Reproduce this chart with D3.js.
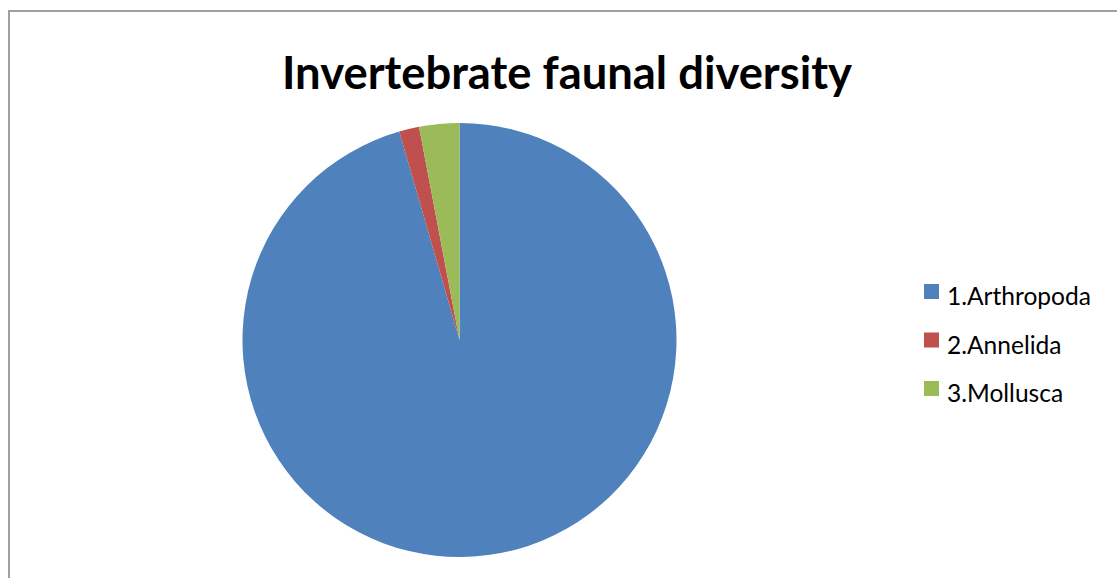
<!DOCTYPE html>
<html lang="en">
<head>
<meta charset="utf-8">
<title>Invertebrate faunal diversity</title>
<script src="https://d3js.org/d3.v7.min.js"></script>
<style>
html, body { margin: 0; padding: 0; background: #fff; }
svg { display: block; }
</style>
</head>
<body>
<script>
// chart data
const phyla = ["1.Arthropoda", "2.Annelida", "3.Mollusca"];
const counts = [64, 1, 2];
const colours = ["#4F81BD", "#C0504D", "#9BBB59"];
const chartTitle = "Invertebrate faunal diversity";

const w = 1117, h = 578;

const svg = d3.select("body").append("svg")
  .attr("width", w)
  .attr("height", h);

// chart frame, runs off the right and bottom edges
svg.append("rect")
  .attr("x", 9)
  .attr("y", 11)
  .attr("width", w)
  .attr("height", h)
  .attr("fill", "#fff")
  .attr("stroke", "#9f9f9f")
  .attr("stroke-width", 2);

// title, fitted to the reference width
const title = svg.append("text")
  .attr("x", 567)
  .attr("y", 89)
  .attr("text-anchor", "middle")
  .style("font-family", "Lato, 'Open Sans', sans-serif")
  .style("font-weight", "bold")
  .style("font-size", "40px")
  .attr("fill", "#000")
  .text(chartTitle);
const tw = title.node().getComputedTextLength();
title.style("font-size", (40 * 570 / tw) + "px");

// pie
const data = phyla.map((p, i) => ({ name: p, value: counts[i] }));
const colour = d3.scaleOrdinal().domain(phyla).range(colours);

const pie = d3.pie()
  .value(d => d.value)
  .sort(null);

const arc = d3.arc()
  .innerRadius(0)
  .outerRadius(217);

const g = svg.append("g")
  .attr("transform", "translate(459.5,340)");

g.selectAll("path")
  .data(pie(data))
  .enter()
  .append("path")
  .attr("d", arc)
  .attr("fill", d => colour(d.data.name));

// legend
const legendY = d3.scalePoint()
  .domain(phyla)
  .range([291.5, 388.5]);

const legend = svg.append("g");

legend.selectAll("rect")
  .data(phyla)
  .enter()
  .append("rect")
  .attr("x", 924)
  .attr("y", d => legendY(d) - 7.5)
  .attr("width", 15)
  .attr("height", 15)
  .attr("fill", d => colour(d));

const labels = legend.selectAll("text")
  .data(phyla)
  .enter()
  .append("text")
  .attr("x", 947)
  .attr("y", d => legendY(d) + 13.5)
  .style("font-family", "Lato, 'Open Sans', sans-serif")
  .style("font-size", "20px")
  .attr("fill", "#000")
  .text(d => d);

const lw = labels.nodes()[0].getComputedTextLength();
labels.style("font-size", (20 * 144 / lw) + "px");
</script>
</body>
</html>
